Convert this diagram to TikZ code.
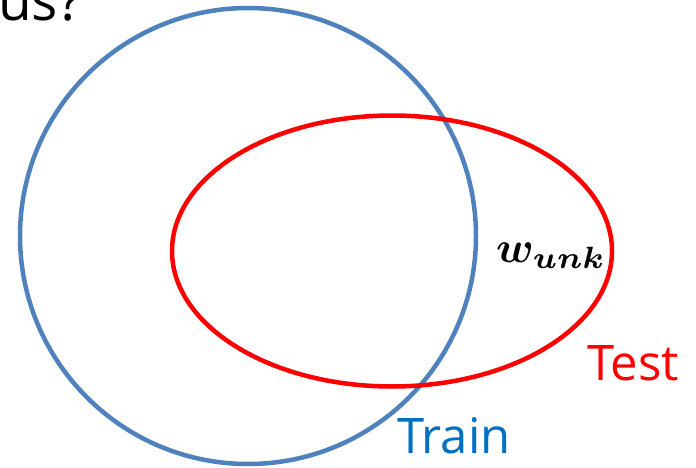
\documentclass[tikz,border=0pt]{standalone}
\usepackage{fontspec}
\usepackage{graphicx}
\usepackage{amsmath,bm}
\setmainfont{Open Sans}
\definecolor{trainblue}{HTML}{4F81BD}
\definecolor{traintext}{HTML}{0070C0}
\begin{document}
\begin{tikzpicture}[x=1pt,y=1pt,
  lbl/.style={inner sep=0pt, anchor=base west, font=\fontsize{49}{54}\selectfont}]
\useasboundingbox (0,0) rectangle (696,467);
\begin{scope}
\clip (0,0) rectangle (696,467);
\node[lbl, font=\fontsize{55}{60}\selectfont] (us) at (-2,446) {us?};
\end{scope}
\draw[trainblue, line width=4.5pt] (248,231) circle [radius=228];
\draw[red, line width=4.5pt] (392,216) ellipse [x radius=220, y radius=135.5];
\node[inner sep=0pt, anchor=base west] (w) at (496,205) {\scalebox{4.4}{$\bm{w_{unk}}$}};
\node[lbl, text=red] (test) at (587,87) {Test};
\node[lbl, text=traintext] (train) at (397,14) {Train};
\end{tikzpicture}
\end{document}
